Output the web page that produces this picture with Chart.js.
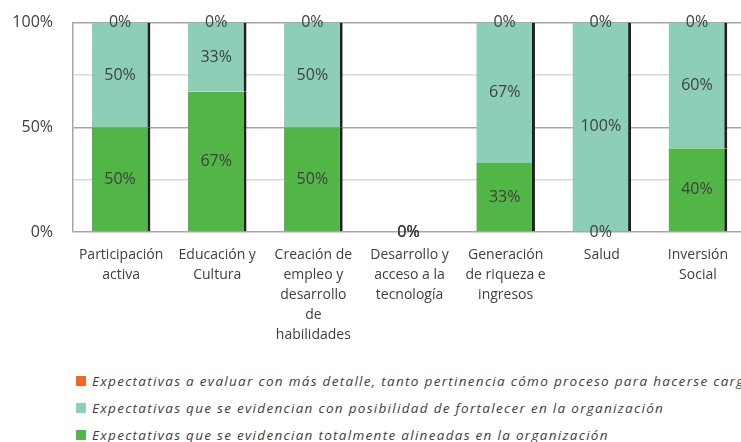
<!DOCTYPE html>
<html>
<head>
  <title>Expectativas por dimensión</title>
  <script src="https://cdn.jsdelivr.net/npm/chart.js"></script>
  <style>
    body {
      margin: 0;
      background-color: #ffffff;
      font-family: "Open Sans", Arial, sans-serif;
      overflow: hidden;
    }

    .wrap {
      width: 741px;
      height: 442px;
      overflow: hidden;
      position: relative;
    }

    .chart-box {
      width: 746px;
      height: 358px;
      margin-top: -7px;
    }

    .legend {
      position: absolute;
      left: 76px;
      top: 367px;
      white-space: nowrap;
    }

    .legend-row {
      height: 27px;
      display: flex;
      align-items: center;
      font-style: italic;
      font-size: 13.5px;
      letter-spacing: 1.3px;
      color: #404040;
    }

    .legend-box {
      width: 10px;
      height: 10px;
      margin-right: 6px;
      flex: none;
    }
  </style>
</head>
<body>
  <div class="wrap">
    <div class="chart-box">
      <canvas id="expChart" width="746" height="358"></canvas>
    </div>
    <div class="legend" id="legend"></div>
  </div>

  <script>
    const categories = [
      ['Participación', 'activa'],
      ['Educación y', 'Cultura'],
      ['Creación de', 'empleo y', 'desarrollo', 'de', 'habilidades'],
      ['Desarrollo y', 'acceso a la', 'tecnología'],
      ['Generación', 'de riqueza e', 'ingresos'],
      ['Salud'],
      ['Inversión', 'Social']
    ];

    // percent of expectations per dimension
    const alineadas = [50, 67, 50, 0, 33, 0, 40];
    const fortalecer = [50, 33, 50, 0, 67, 100, 60];
    const evaluar = [0, 0, 0, 0, 0, 0, 0];

    const yTickLabels = [0, 50, 100];

    const seriesNames = [
      'Expectativas que se evidencian totalmente alineadas en la organización',
      'Expectativas que se evidencian con posibilidad de fortalecer en la organización',
      'Expectativas a evaluar con más detalle, tanto pertinencia cómo proceso para hacerse cargo'
    ];
    const seriesColors = ['#52b646', '#8dcfb6', '#f26522'];

    const edge = { top: 0, right: 3, bottom: 0, left: 0 };

    // percent labels in the middle of each segment
    const segmentLabels = {
      id: 'segmentLabels',
      afterDatasetsDraw(chart) {
        const ctx = chart.ctx;
        ctx.save();
        ctx.font = '16px "Open Sans", Arial, sans-serif';
        ctx.fillStyle = '#404040';
        ctx.textAlign = 'center';
        ctx.textBaseline = 'middle';
        chart.data.datasets.forEach((ds, i) => {
          const meta = chart.getDatasetMeta(i);
          meta.data.forEach((bar, j) => {
            const v = ds.data[j];
            const cy = (bar.y + bar.base) / 2;
            ctx.fillText(v + '%', bar.x - 1, cy);
          });
        });
        ctx.restore();
      }
    };

    const chart = new Chart(document.getElementById('expChart').getContext('2d'), {
      type: 'bar',
      data: {
        labels: categories,
        datasets: [alineadas, fortalecer, evaluar].map((d, i) => ({
          label: seriesNames[i],
          data: d,
          backgroundColor: seriesColors[i],
          borderColor: '#231f20',
          borderWidth: edge,
          borderSkipped: false,
          barPercentage: 0.61,
          categoryPercentage: 1
        }))
      },
      options: {
        responsive: false,
        animation: false,
        plugins: {
          legend: { display: false },
          tooltip: { enabled: false }
        },
        scales: {
          x: {
            stacked: true,
            grid: { display: false, drawTicks: false },
            border: { display: false },
            ticks: {
              color: '#404040',
              font: { family: '"Open Sans", Arial, sans-serif', size: 14, lineHeight: '20px' },
              padding: 13,
              maxRotation: 0,
              autoSkip: false
            },
            afterFit(scale) {
              scale.height = 119;
            }
          },
          y: {
            stacked: true,
            min: 0,
            max: 100,
            grid: {
              drawTicks: false,
              color: (c) => yTickLabels.includes(c.tick.value) ? '#a6a6a6' : '#d9d9d9',
              lineWidth: 1.5
            },
            border: { display: true, color: '#a6a6a6', width: 1.5 },
            ticks: {
              stepSize: 25,
              color: '#404040',
              font: { family: '"Open Sans", Arial, sans-serif', size: 16 },
              padding: 20,
              callback: (v) => yTickLabels.includes(v) ? v + '%' : ''
            },
            afterFit(scale) {
              scale.width = 73;
            }
          }
        }
      },
      plugins: [segmentLabels]
    });

    // legend, top series first
    const legend = document.getElementById('legend');
    for (let i = seriesNames.length - 1; i >= 0; i--) {
      const row = document.createElement('div');
      row.className = 'legend-row';
      const box = document.createElement('span');
      box.className = 'legend-box';
      box.style.background = seriesColors[i];
      const txt = document.createElement('span');
      txt.textContent = seriesNames[i];
      row.appendChild(box);
      row.appendChild(txt);
      legend.appendChild(row);
    }
  </script>
</body>
</html>
